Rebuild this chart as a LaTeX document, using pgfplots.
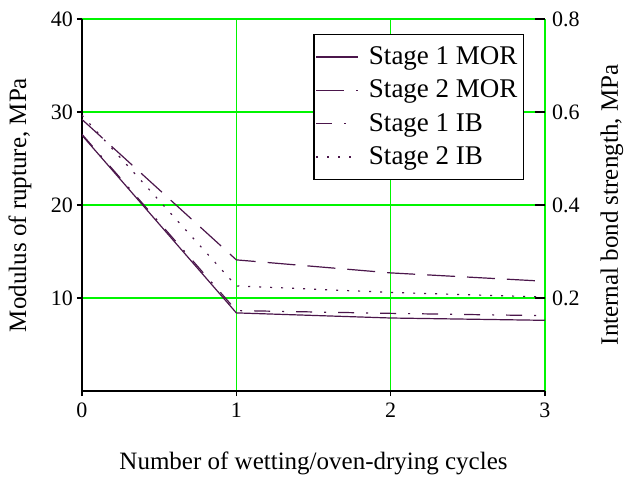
\documentclass[border=0pt]{standalone}
\usepackage{fontspec}
\setmainfont{Liberation Serif}
\usepackage{pgfplots}
\pgfplotsset{compat=1.18}
\definecolor{linec}{RGB}{75,22,75}
\definecolor{gridg}{RGB}{0,245,0}
\begin{document}
\begin{tikzpicture}
\path[use as bounding box] (-41pt,-43.5pt) rectangle (271.5pt,195.5pt);
\begin{axis}[
  at={(0,0)}, anchor=south west, scale only axis,
  width=231.5pt, height=186pt,
  xmin=0, xmax=3, ymin=0, ymax=40,
  axis x line*=bottom, axis y line*=left,
  xtick={0,1,2,3}, ytick={10,20,30,40},
  grid=major, major grid style={gridg, line width=0.7pt},
  tick align=outside, major tick length=2.5pt,
  tick style={black, line width=0.6pt},
  axis line style={black, line width=0.7pt},
  tick label style={font=\fontsize{11}{13}\selectfont},
  yticklabel style={xshift=1.5pt},
  /pgf/number format/assume math mode=true,
  xlabel={Number of wetting/oven-drying cycles},
  ylabel={Modulus of rupture, MPa},
  label style={font=\fontsize{12.5}{15}\selectfont},
  xlabel style={at={(axis description cs:0.5,-0.1935)}, anchor=center},
  ylabel style={at={(axis description cs:-0.134,0.5)}, anchor=center},
]
\addplot[linec, line width=0.6pt] coordinates {(0,27.5) (1,8.4) (2,7.85) (3,7.6)};
\addplot[linec, line width=0.6pt, dash pattern=on 14pt off 6pt] coordinates {(0,29.2) (1,14.1) (2,12.7) (3,11.8)};
\end{axis}
\begin{axis}[
  at={(0,0)}, anchor=south west, scale only axis,
  width=231.5pt, height=186pt,
  xmin=0, xmax=3, ymin=0, ymax=0.8,
  axis x line=none, axis y line*=right,
  y axis line style={draw=none},
  ytick={0.2,0.4,0.6,0.8},
  yticklabel style={/pgf/number format/fixed, /pgf/number format/precision=1},
  tick align=inside, major tick length=5pt,
  tick style={black, line width=0.6pt},
  tick label style={font=\fontsize{11}{13}\selectfont},
  /pgf/number format/assume math mode=true,
  ylabel={Internal bond strength, MPa},
  label style={font=\fontsize{12.5}{15}\selectfont},
  ylabel style={at={(axis description cs:1.1447,0.5)}, anchor=center},
  legend image code/.code={\draw[#1] (0pt,0pt) -- (21pt,0pt); \path (24pt,0pt);},
  legend cell align=left,
  legend style={at={(axis description cs:0.499,0.96)}, anchor=north west,
    draw=black, line width=0.75pt, fill=white,
    font=\fontsize{13.5}{15}\selectfont, row sep=2.2pt,
    inner xsep=1pt, inner ysep=4pt},
]
\addlegendimage{linec, line width=0.6pt}
\addlegendentry{Stage 1 MOR\hspace{2.5pt}}
\addlegendimage{linec, line width=0.6pt, dash pattern=on 14pt off 6pt}
\addlegendentry{Stage 2 MOR\hspace{2.5pt}}
\addplot[linec, line width=0.6pt, dash pattern=on 8pt off 6pt on 1pt off 6pt] coordinates {(0,0.552) (1,0.173) (2,0.167) (3,0.162)};
\addlegendentry{Stage 1 IB}
\addplot[linec, line width=0.6pt, dash pattern=on 1pt off 4.5pt] coordinates {(0,0.593) (1,0.226) (2,0.212) (3,0.202)};
\addlegendentry{Stage 2 IB}
\end{axis}
\end{tikzpicture}
\end{document}
